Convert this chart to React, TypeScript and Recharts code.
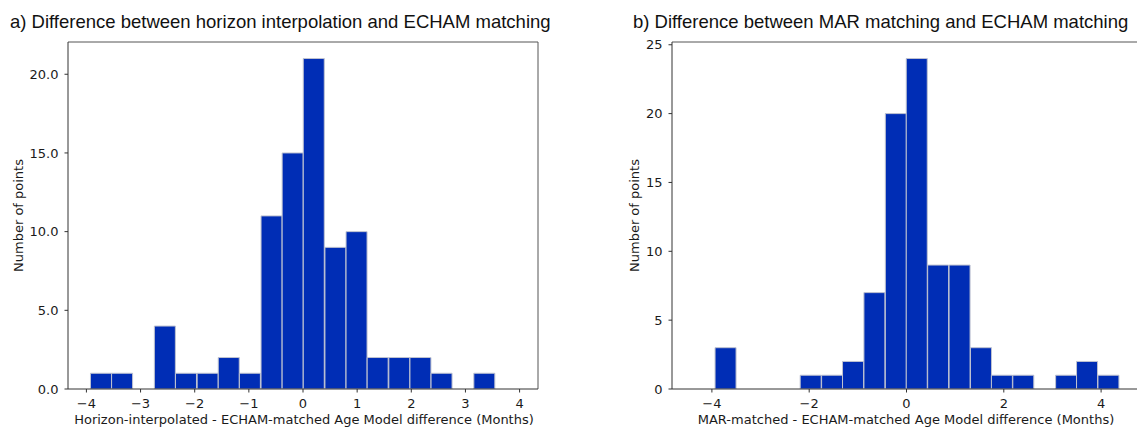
import { BarChart, Bar, XAxis, YAxis, ReferenceLine } from "recharts";

// histogram bin centres (months) and counts per bin
const binsHorizon = [
  -3.73, -3.34, -2.94, -2.55, -2.16, -1.76, -1.37, -0.98, -0.58, -0.19,
  0.2, 0.6, 0.99, 1.38, 1.78, 2.17, 2.56, 2.96, 3.35,
];
const countsHorizon = [1, 1, 0, 4, 1, 1, 2, 1, 11, 15, 21, 9, 10, 2, 2, 2, 1, 0, 1];

const binsMar = [
  -3.72, -3.28, -2.84, -2.41, -1.97, -1.53, -1.1, -0.66, -0.22, 0.21,
  0.65, 1.09, 1.53, 1.96, 2.4, 2.84, 3.28, 3.71, 4.15,
];
const countsMar = [3, 0, 0, 0, 1, 1, 2, 7, 20, 24, 9, 9, 3, 1, 1, 0, 1, 2, 1];

const ticksHorizon = [-4, -3, -2, -1, 0, 1, 2, 3, 4];
const ticksMar = [-4, -2, 0, 2, 4];
const yTicksHorizon = [0, 5, 10, 15, 20];
const yTicksMar = [0, 5, 10, 15, 20, 25];

const titleA = "a) Difference between horizon interpolation and ECHAM matching";
const titleB = "b) Difference between MAR matching and ECHAM matching";
const xLabelA = "Horizon-interpolated - ECHAM-matched Age Model difference (Months)";
const xLabelB = "MAR-matched - ECHAM-matched Age Model difference (Months)";
const yLabel = "Number of points";

const FILL = "#002db5";
const EDGE = "#bfc3d0";
const SPINE = "#333";
const MPL_FONT = "'DejaVu Sans', sans-serif";
const tickStyle = { fontSize: 13, fontFamily: MPL_FONT, fill: "#1a1a1a" };

const minus = (v: number) => (v < 0 ? "\u2212" + Math.abs(v) : String(v));

type Props = {
  bins: number[];
  counts: number[];
  xDomain: [number, number];
  yMax: number;
  xTicks: number[];
  yTicks: number[];
  yFmt: (v: number) => string;
  left: number;
  margin: { top: number; right: number; bottom: number; left: number };
};

function Hist({ bins, counts, xDomain, yMax, xTicks, yTicks, yFmt, left, margin }: Props) {
  const data = bins.map((x, i) => ({ x, n: counts[i] }));
  return (
    <div style={{ position: "absolute", left, top: 0 }}>
      <BarChart width={560} height={429} data={data} margin={margin} barCategoryGap={0} barGap={0}>
        <XAxis
          dataKey="x"
          type="number"
          domain={xDomain}
          ticks={xTicks}
          allowDataOverflow
          tickFormatter={minus}
          tick={tickStyle}
          tickSize={3.5}
          tickMargin={6.5}
          height={30}
          stroke={SPINE}
          interval={0}
        />
        <YAxis
          type="number"
          domain={[0, yMax]}
          ticks={yTicks}
          allowDataOverflow
          tickFormatter={yFmt}
          tick={tickStyle}
          tickSize={3.5}
          tickMargin={6}
          width={50}
          stroke={SPINE}
          interval={0}
        />
        {/* top and right spines */}
        <ReferenceLine y={yMax} stroke="#555" strokeWidth={1} />
        <ReferenceLine x={xDomain[1]} stroke="#555" strokeWidth={1} />
        <Bar dataKey="n" fill={FILL} stroke={EDGE} strokeWidth={1} isAnimationActive={false} />
      </BarChart>
    </div>
  );
}

export default function App() {
  const labelStyle = { fontFamily: MPL_FONT, fontSize: 13, fill: "#1a1a1a" };
  const titleStyle = { fontFamily: "'Liberation Sans', Arial, sans-serif", fontSize: 18.5, fill: "#111" };
  return (
    <div
      style={{
        position: "absolute",
        left: 0,
        top: 0,
        width: 1137,
        height: 429,
        overflow: "hidden",
        background: "#fff",
      }}
    >
      <Hist
        bins={binsHorizon}
        counts={countsHorizon}
        xDomain={[-4.34, 4.34]}
        yMax={22.05}
        xTicks={ticksHorizon}
        yTicks={yTicksHorizon}
        yFmt={(v) => v.toFixed(1)}
        left={0}
        margin={{ top: 42, right: 22, bottom: 10, left: 18 }}
      />
      <Hist
        bins={binsMar}
        counts={countsMar}
        xDomain={[-4.82, 4.82]}
        yMax={25.2}
        xTicks={ticksMar}
        yTicks={yTicksMar}
        yFmt={(v) => String(v)}
        left={600}
        margin={{ top: 42, right: 19, bottom: 10, left: 22 }}
      />
      <svg width={1137} height={429} style={{ position: "absolute", left: 0, top: 0, pointerEvents: "none" }}>
        <text x={10} y={28} style={titleStyle}>{titleA}</text>
        <text x={633} y={28} style={titleStyle}>{titleB}</text>
        <text x={304} y={424} textAnchor="middle" style={labelStyle}>{xLabelA}</text>
        <text x={906} y={424} textAnchor="middle" style={labelStyle}>{xLabelB}</text>
        <text
          x={18.5}
          y={215.5}
          textAnchor="middle"
          dominantBaseline="central"
          transform="rotate(-90 18.5 215.5)"
          style={labelStyle}
        >
          {yLabel}
        </text>
        <text
          x={634}
          y={215.5}
          textAnchor="middle"
          dominantBaseline="central"
          transform="rotate(-90 634 215.5)"
          style={labelStyle}
        >
          {yLabel}
        </text>
      </svg>
    </div>
  );
}
